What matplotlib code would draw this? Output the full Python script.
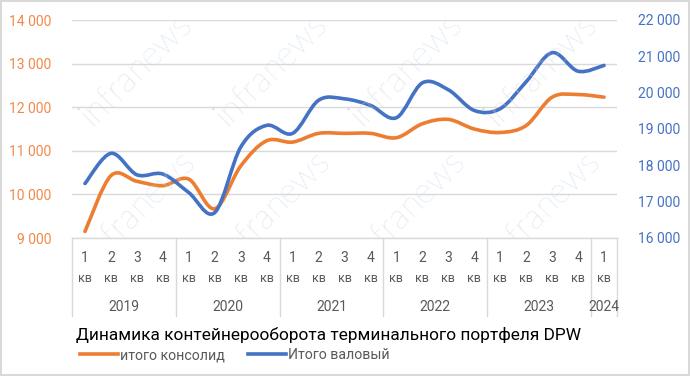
import numpy as np
import matplotlib
matplotlib.use("Agg")
import matplotlib.pyplot as plt
from matplotlib.path import Path
from matplotlib.patches import PathPatch
from matplotlib.lines import Line2D
from matplotlib.ticker import FuncFormatter

plt.rcParams['font.family'] = ['Roboto', 'DejaVu Sans']

# Данные
years = ["2019", "2020", "2021", "2022", "2023", "2024"]
quarters_per_year = [4, 4, 4, 4, 4, 1]
quarter_labels = ["1", "2", "3", "4"] * 5 + ["1"]

consolid = [9150, 10430, 10300, 10200, 10350, 9670, 10650, 11230, 11200, 11400, 11400,
            11400, 11300, 11620, 11720, 11500, 11420, 11580, 12230, 12290, 12230]
gross = [17500, 18330, 17740, 17760, 17250, 16700, 18500, 19100, 18880, 19790, 19830,
         19650, 19310, 20270, 20080, 19510, 19560, 20300, 21100, 20590, 20750]

orange = '#ED7D31'
blue = '#4472C4'
grey_txt = '#595959'
grid_c = '#D9D9D9'


def smooth_path(xs, ys):
    # кривая Безье как "сглаженная линия" Excel
    pts = np.column_stack([xs, ys]).astype(float)
    n = len(pts)
    verts = [pts[0]]
    codes = [Path.MOVETO]
    for i in range(n - 1):
        p0 = pts[i - 1] if i > 0 else pts[i]
        p1 = pts[i]
        p2 = pts[i + 1]
        p3 = pts[i + 2] if i + 2 < n else pts[i + 1]
        c1 = p1 + (p2 - p0) / 6.0
        c2 = p2 - (p3 - p1) / 6.0
        verts += [c1, c2, p2]
        codes += [Path.CURVE4] * 3
    return Path(verts, codes)


fig = plt.figure(figsize=(6.9, 3.76), dpi=100)
fig.patch.set_edgecolor(grid_c)
fig.patch.set_linewidth(1.5)

ax = fig.add_axes([72 / 690, 1 - 238 / 376, (617 - 72) / 690, (238 - 20) / 376])
ax2 = ax.twinx()

x = np.arange(len(consolid))
ax.set_xlim(-0.5, len(consolid) - 0.5)
ax.set_ylim(9000, 14000)
ax2.set_ylim(16000, 22000)

for a in (ax, ax2):
    for s in a.spines.values():
        s.set_visible(False)

ax.set_yticks(np.arange(9000, 14001, 1000))
ax2.set_yticks(np.arange(16000, 22001, 1000))
fmt = FuncFormatter(lambda v, p: f"{int(v):,}".replace(",", " "))
ax.yaxis.set_major_formatter(fmt)
ax2.yaxis.set_major_formatter(fmt)
ax.tick_params(axis='y', length=0, pad=15, labelsize=10, labelcolor='#F08A4B')
ax2.tick_params(axis='y', length=0, pad=15, labelsize=10, labelcolor=blue)
ax.grid(axis='y', color=grid_c, lw=1)
ax.set_axisbelow(True)
ax.set_xticks([])
ax.tick_params(axis='x', length=0)

# водяные знаки
for row_y, row_x0 in ((73, 132), (210, 135)):
    for k in range(4):
        cx = (row_x0 + 135 * k) / 690
        cy = 1 - row_y / 376
        kw = dict(transform=fig.transFigure, rotation=45, rotation_mode='anchor',
                  va='center', fontsize=25, family='Lato', fontweight='light',
                  zorder=0, clip_on=True)
        t1 = fig.text(cx, cy, "infra", ha='right', color='#D2D2D2', **kw)
        t2 = fig.text(cx, cy, "news", ha='left', color='#C9D8EE', **kw)
        for t in (t1, t2):
            t.set_clip_box(ax.bbox)

ax.add_patch(PathPatch(smooth_path(x, consolid), fill=False, edgecolor=orange,
                       lw=2.6, capstyle='round', joinstyle='round', zorder=3))
ax2.add_patch(PathPatch(smooth_path(x, gross), fill=False, edgecolor=blue,
                        lw=2.6, capstyle='round', joinstyle='round', zorder=3))

# подписи по оси X: кварталы и годы
trans = ax.get_xaxis_transform()
h = 238 - 20
for i, q in enumerate(quarter_labels):
    ax.text(i, -(258 - 238) / h, q, transform=trans, ha='center', va='center',
            fontsize=10, color=grey_txt, clip_on=False)
    ax.text(i, -(278 - 238) / h, "кв", transform=trans, ha='center', va='center',
            fontsize=9, color=grey_txt, clip_on=False)

start = 0
bounds = [-0.5]
for y, nq in zip(years, quarters_per_year):
    ax.text(start + (nq - 1) / 2, -(307 - 238) / h, y, transform=trans, ha='center',
            va='center', fontsize=10, color=grey_txt, clip_on=False)
    start += nq
    bounds.append(start - 0.5)
for b in bounds:
    ax.plot([b, b], [0, -(316 - 238) / h], transform=trans, color=grid_c, lw=1,
            clip_on=False)
ax.plot([-0.5, len(consolid) - 0.5], [0, 0], transform=trans, color=grid_c, lw=1,
        clip_on=False)

fig.text(76 / 690, 1 - 335 / 376, "Динамика контейнерооборота терминального портфеля DPW",
         ha='left', va='center', fontsize=12.4, color='black')

handles = [Line2D([], [], color=orange, lw=2.6),
           Line2D([], [], color=blue, lw=2.6)]
fig.legend(handles, ["итого консолид", "Итого валовый"], loc='center left',
           bbox_to_anchor=(80 / 690, 1 - 355 / 376), ncol=2, frameon=False,
           handlelength=2.7, handletextpad=0.15, columnspacing=1.6,
           fontsize=10.2, labelcolor=grey_txt, borderpad=0, borderaxespad=0)

fig.savefig("out.png", dpi=100)
